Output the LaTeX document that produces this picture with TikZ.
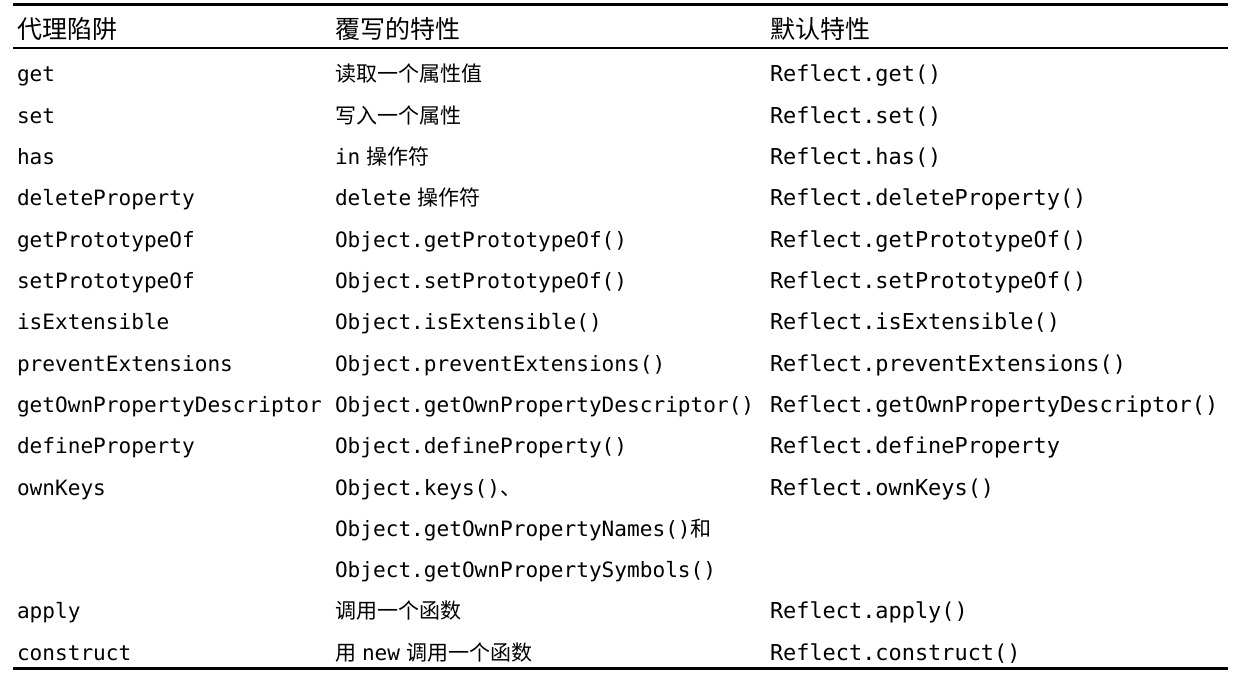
\documentclass[tikz,border=0pt]{standalone}
\usepackage{fontspec}
\setmonofont{DejaVu Sans Mono}
\newfontfamily\cjk{Noto Sans CJK SC}
\newcommand{\cn}[1]{{\cjk\fontsize{21}{24}\selectfont #1}}
\newcommand{\gap}{\hspace{6pt}}
\begin{document}
\begin{tikzpicture}[x=1pt,y=-1pt,
  cell/.style={anchor=base west,inner sep=0pt,outer sep=0pt,font=\ttfamily\fontsize{21.1}{24}\selectfont},
  cellc/.style={anchor=base west,inner sep=0pt,outer sep=0pt,font=\ttfamily\fontsize{21.9}{24}\selectfont},
  headcell/.style={anchor=base west,inner sep=0pt,outer sep=0pt,font=\cjk\fontsize{25}{28}\selectfont},
  thickrule/.style={line width=3pt},
  thinrule/.style={line width=1.4pt}]
\useasboundingbox (0,0) rectangle (1240,687);
\fill[white] (0,0) rectangle (1240,687);
% rules
\coordinate (tl) at (13,5); \coordinate (tr) at (1228,5);
\coordinate (hl) at (13,48); \coordinate (hr) at (1228,48);
\coordinate (bl) at (13,668); \coordinate (br) at (1228,668);
\draw[thickrule] (tl) -- (tr);
\draw[thinrule] (hl) -- (hr);
\draw[thickrule] (bl) -- (br);
% header
\node[headcell] (h1) at (17,39) {代理陷阱};
\node[headcell] (h2) at (335,39) {覆写的特性};
\node[headcell] (h3) at (770,39) {默认特性};
% rows
\def\ca{17}\def\cb{335}\def\cc{770}
\node[cell] (a1) at (\ca,82) {get};
\node[cell] (b1) at (\cb,82) {\cn{读取一个属性值}};
\node[cellc] (c1) at (\cc,82) {Reflect.get()};
\node[cell] (a2) at (\ca,123.3) {set};
\node[cell] (b2) at (\cb,123.3) {\cn{写入一个属性}};
\node[cellc] (c2) at (\cc,123.3) {Reflect.set()};
\node[cell] (a3) at (\ca,164.6) {has};
\node[cell] (b3) at (\cb,164.6) {in\gap\cn{操作符}};
\node[cellc] (c3) at (\cc,164.6) {Reflect.has()};
\node[cell] (a4) at (\ca,205.9) {deleteProperty};
\node[cell] (b4) at (\cb,205.9) {delete\gap\cn{操作符}};
\node[cellc] (c4) at (\cc,205.9) {Reflect.deleteProperty()};
\node[cell] (a5) at (\ca,247.2) {getPrototypeOf};
\node[cell] (b5) at (\cb,247.2) {Object.getPrototypeOf()};
\node[cellc] (c5) at (\cc,247.2) {Reflect.getPrototypeOf()};
\node[cell] (a6) at (\ca,288.5) {setPrototypeOf};
\node[cell] (b6) at (\cb,288.5) {Object.setPrototypeOf()};
\node[cellc] (c6) at (\cc,288.5) {Reflect.setPrototypeOf()};
\node[cell] (a7) at (\ca,329.8) {isExtensible};
\node[cell] (b7) at (\cb,329.8) {Object.isExtensible()};
\node[cellc] (c7) at (\cc,329.8) {Reflect.isExtensible()};
\node[cell] (a8) at (\ca,371.1) {preventExtensions};
\node[cell] (b8) at (\cb,371.1) {Object.preventExtensions()};
\node[cellc] (c8) at (\cc,371.1) {Reflect.preventExtensions()};
\node[cell] (a9) at (\ca,412.4) {getOwnPropertyDescriptor};
\node[cell] (b9) at (\cb,412.4) {Object.getOwnPropertyDescriptor()};
\node[cellc] (c9) at (\cc,412.4) {Reflect.getOwnPropertyDescriptor()};
\node[cell] (a10) at (\ca,453.7) {defineProperty};
\node[cell] (b10) at (\cb,453.7) {Object.defineProperty()};
\node[cellc] (c10) at (\cc,453.7) {Reflect.defineProperty};
\node[cell] (a11) at (\ca,495) {ownKeys};
\node[cell] (b11) at (\cb,495) {Object.keys()\cn{、}};
\node[cellc] (c11) at (\cc,495) {Reflect.ownKeys()};
\node[cell] (b11b) at (\cb,536.3) {Object.getOwnPropertyNames()\cn{和}};
\node[cell] (b11c) at (\cb,577.6) {Object.getOwnPropertySymbols()};
\node[cell] (a12) at (\ca,618.9) {apply};
\node[cell] (b12) at (\cb,618.9) {\cn{调用一个函数}};
\node[cellc] (c12) at (\cc,618.9) {Reflect.apply()};
\node[cell] (a13) at (\ca,660.2) {construct};
\node[cell] (b13) at (\cb,660.2) {\cn{用}\gap new\gap\cn{调用一个函数}};
\node[cellc] (c13) at (\cc,660.2) {Reflect.construct()};
\end{tikzpicture}
\end{document}
